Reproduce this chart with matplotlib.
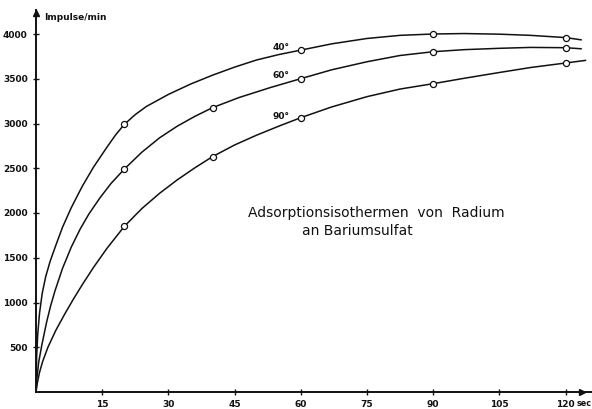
import matplotlib
matplotlib.use("Agg")
import matplotlib.pyplot as plt

# ---------------------------------------------------------------
# DATA: adsorption of radium on barium sulfate
# time in sec, counts in Impulse/min
# ---------------------------------------------------------------

# curve traces
T40 = [0, 0.15, 0.4, 0.8, 1.4, 2.2, 3.2, 4.5, 6, 8, 10.5, 13, 16, 18, 20, 22.5,
       25, 30, 35, 40, 45, 50, 55, 60, 67, 75, 82.5, 90, 97, 105, 112, 120, 123.5]
V40 = [0, 400, 650, 880, 1100, 1290, 1460, 1640, 1840, 2060, 2300, 2510, 2730,
       2870, 2990, 3100, 3190, 3325, 3440, 3540, 3630, 3710, 3770, 3820, 3890,
       3950, 3985, 4000, 4005, 3998, 3985, 3960, 3935]

T60 = [0, 0.2, 0.6, 1.3, 2.4, 3.3, 4.3, 6, 8, 10, 12, 14.5, 17, 20, 24, 28, 32,
       36, 40, 46, 53, 60, 67, 75, 82.5, 90, 97, 105, 112, 120, 123.5]
V60 = [0, 150, 330, 520, 780, 960, 1130, 1380, 1620, 1820, 1990, 2170, 2330,
       2490, 2680, 2840, 2970, 3080, 3177, 3290, 3400, 3501, 3600, 3690, 3760,
       3802, 3825, 3840, 3850, 3847, 3835]

T90 = [0, 0.3, 0.8, 1.5, 2.7, 4.5, 6.5, 8.5, 10.5, 13, 16, 20, 24, 28, 32, 36,
       40, 45, 50, 55, 60, 67, 75, 82.5, 90, 97, 105, 112, 120, 124.5]
V90 = [0, 100, 220, 340, 500, 690, 870, 1040, 1200, 1390, 1600, 1850, 2050, 2220,
       2370, 2505, 2630, 2760, 2870, 2970, 3065, 3185, 3300, 3385, 3445, 3505,
       3570, 3625, 3676, 3705]

# measured points (open circles)
PT40 = [20, 60, 90, 120]
PV40 = [2990, 3820, 4000, 3960]
PT60 = [20, 40, 60, 90, 120]
PV60 = [2490, 3177, 3501, 3802, 3847]
PT90 = [20, 40, 60, 90, 120]
PV90 = [1850, 2630, 3065, 3445, 3676]

CURVE_LABELS = ["40°", "60°", "90°"]

X_TICKS = [15, 30, 45, 60, 75, 90, 105, 120]
Y_TICKS = [500, 1000, 1500, 2000, 2500, 3000, 3500, 4000]

# ---------------------------------------------------------------
# PLOT
# ---------------------------------------------------------------
W, H = 592, 409
fig = plt.figure(figsize=(W / 100, H / 100), dpi=100)
x0, y0 = 36, 392          # origin in pixels
px_per_sec = 66.2 / 15
px_per_unit = 44.75 / 500
ax = fig.add_axes([x0 / W, (H - y0) / H, (W - x0) / W, (y0 - 10) / H])
ax.set_xlim(0, (W - x0) / px_per_sec)
ax.set_ylim(0, (y0 - 10) / px_per_unit)

ink = "#111111"
fnt = dict(color=ink, fontweight="bold")

for t, v in [(T40, V40), (T60, V60), (T90, V90)]:
    ax.plot(t, v, color=ink, lw=1.1, solid_joinstyle="round", zorder=2)
for t, v in [(PT40, PV40), (PT60, PV60), (PT90, PV90)]:
    ax.plot(t, v, "o", ms=4.4, mfc="white", mec=ink, mew=0.9, zorder=3)

# curve labels
for lab, yv in zip(CURVE_LABELS, [3844, 3531, 3073]):
    ax.text(53.5, yv, lab, fontsize=6.5, ha="left", va="center", **fnt)

# caption
ax.text(48.0, 2000, "Adsorptionsisothermen  von  Radium", fontsize=10,
        ha="left", va="center", color=ink)
ax.text(60.3, 1800, "an Bariumsulfat", fontsize=10, ha="left", va="center",
        color=ink)

# axes look
for s in ["top", "right"]:
    ax.spines[s].set_visible(False)
for s in ["left", "bottom"]:
    ax.spines[s].set_linewidth(1.4)
    ax.spines[s].set_color(ink)

ax.set_xticks(X_TICKS)
ax.set_xticklabels([str(x) for x in X_TICKS])
ax.set_yticks(Y_TICKS)
ax.set_yticklabels([str(y) for y in Y_TICKS])
ax.tick_params(direction="inout", length=4, width=1, colors=ink,
               labelsize=6.5, pad=4)
for lbl in ax.get_xticklabels() + ax.get_yticklabels():
    lbl.set_fontweight("bold")

# axis arrows
ax.plot([0], [4235], marker="^", ms=4.5, color=ink, clip_on=False, zorder=4)
ax.plot([123.7], [0], marker=">", ms=4.5, color=ink, clip_on=False, zorder=4)

# axis titles
ax.text(1.8, 4180, "Impulse/min", fontsize=6.5, ha="left", va="center", **fnt)
ax.text(122.6, -75, "sec", fontsize=5.8, ha="left", va="top", clip_on=False,
        **fnt)

fig.savefig("out.png", dpi=100)
